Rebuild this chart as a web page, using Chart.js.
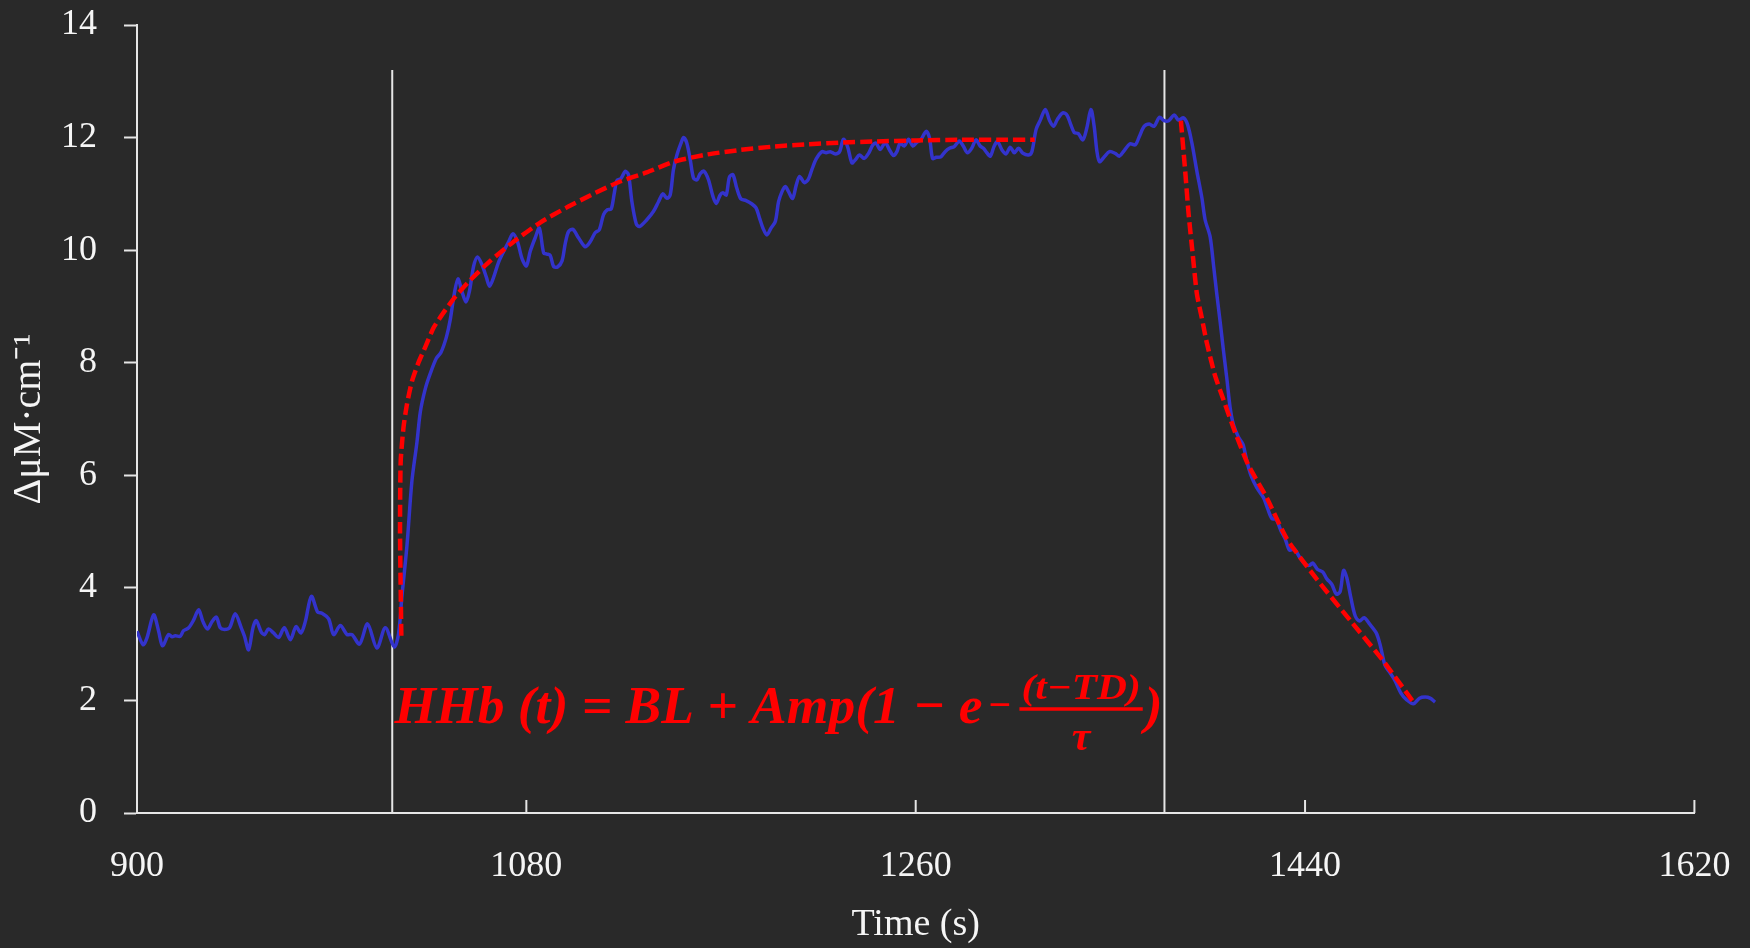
<!DOCTYPE html>
<html>
  <head>
    <title>HHb response</title>
    <style>
      body {
        margin: 0;
        padding: 0;
        background-color: #292929;
      }
      #chart-box {
        width: 1750px;
        height: 948px;
      }
    </style>
  </head>
  <body>
    <div id="chart-box">
      <canvas id="hhb-chart" width="1750" height="948"></canvas>
    </div>

    <script src="https://cdn.jsdelivr.net/npm/chart.js"></script>
    <script>
      // measured HHb signal (s, µM·cm-1)
      const hhbTime = [
        900, 902.8, 904.6, 907.7, 910, 911.8, 914.6, 916.2, 917.7, 920, 921.5, 923.9, 926.2, 928.5, 930.5,
        932.6, 934.7, 936.7, 938.5, 940.4, 942.8, 945.4, 948.2, 949.7, 951.6, 953.6, 955.1, 957.5, 959,
        960.8, 963.1, 965.5, 968.1, 970.9, 973.5, 975.8, 977.8, 980.6, 983.5, 985.5, 988.6, 990.9, 994,
        997.1, 999.4, 1002.9, 1006.6, 1010.9, 1014.8, 1018.9, 1020.9, 1022.5, 1024.8, 1027.1, 1029.4, 1031,
        1033.3, 1035.6, 1038.4, 1040.5, 1043, 1044.8, 1046.7, 1048.4, 1050.2, 1052.1, 1053.7, 1055.6,
        1057.4, 1059.5, 1061.5, 1063, 1064.8, 1067.1, 1069.8, 1071.8, 1073.8, 1075.9, 1078, 1080, 1081.8,
        1084.1, 1086, 1088, 1089.5, 1091, 1092.6, 1094.4, 1096.5, 1098, 1099.5, 1101.5, 1104.1, 1107.2,
        1109.5, 1111.8, 1113.7, 1115.7, 1117.5, 1119.2, 1120.6, 1121.9, 1123.7, 1125.7, 1127.2, 1128.8,
        1130.8, 1132.3, 1135.7, 1138.8, 1141.1, 1143.1, 1145, 1146.5, 1148, 1149.6, 1151.5, 1152.7, 1154.2,
        1155.8, 1157.3, 1158.9, 1160.4, 1162.2, 1164.2, 1166.3, 1167.8, 1169.6, 1170.9, 1172.4, 1173.9,
        1175.5, 1177.3, 1179.2, 1181.6, 1184.3, 1186.2, 1187.8, 1189.4, 1191.2, 1193.1, 1195.1, 1196.6,
        1198.2, 1199.7, 1201.2, 1203.1, 1204.8, 1206.3, 1208.5, 1210.4, 1212, 1214, 1216.6, 1218.6, 1220.5,
        1222.8, 1224.8, 1226.6, 1228.5, 1230.5, 1232, 1234, 1236.2, 1238.2, 1240.2, 1241.7, 1243.6, 1245.9,
        1247.9, 1249.7, 1251.3, 1252.8, 1254.7, 1256.7, 1258.7, 1260.6, 1262.4, 1264.8, 1266.4, 1267.8,
        1269.5, 1271.7, 1273.6, 1275.6, 1277.8, 1280.2, 1282.1, 1283.9, 1285.9, 1287.9, 1289.8, 1291.3,
        1292.9, 1294.5, 1296.3, 1297.8, 1299.9, 1301.8, 1303.7, 1305.6, 1307.5, 1309.6, 1312.2, 1313.7,
        1315.7, 1317.6, 1319.9, 1321.9, 1323.7, 1325.6, 1328, 1329.9, 1331.7, 1333.3, 1335.2, 1337.3,
        1339.1, 1341, 1342.5, 1343.8, 1345, 1347.2, 1349.6, 1352.2, 1354.2, 1356.4, 1359.1, 1361.5, 1363.4,
        1365.6, 1368, 1370.2, 1372.7, 1374.9, 1376.9, 1379.5, 1381.5, 1383.8, 1385.7, 1387.7, 1390, 1392.3,
        1393.8, 1396.1, 1397.7, 1399.2, 1400.8, 1402.3, 1403.9, 1405.4, 1406.9, 1409.2, 1411.3, 1413.1,
        1415, 1417.7, 1420.8, 1422.6, 1424.7, 1426.6, 1428.8, 1430.8, 1432.8, 1435, 1437.4, 1440, 1442,
        1443.6, 1445.7, 1448.2, 1450.1, 1452.4, 1454.4, 1456.2, 1457.8, 1459.3, 1461.2, 1463.2, 1465.2,
        1467.3, 1469.8, 1472.9, 1474.7, 1477, 1479.3, 1481.6, 1484.3, 1487, 1490.1, 1492.9, 1495.5, 1497.8,
        1500.1,
      ];
      const hhbValues = [
        3.23, 2.99, 3.11, 3.52, 3.23, 2.97, 3.17, 3.13, 3.15, 3.14, 3.24, 3.29, 3.43, 3.61, 3.4, 3.27, 3.4,
        3.48, 3.29, 3.26, 3.29, 3.54, 3.29, 3.14, 2.9, 3.29, 3.42, 3.21, 3.17, 3.27, 3.2, 3.12, 3.29, 3.08,
        3.31, 3.2, 3.4, 3.85, 3.57, 3.55, 3.45, 3.17, 3.33, 3.17, 3.17, 3.0, 3.36, 2.93, 3.29, 2.95, 3.18,
        3.86, 4.75, 5.9, 6.58, 7.13, 7.54, 7.81, 8.08, 8.18, 8.45, 8.76, 9.23, 9.49, 9.27, 9.08, 9.27, 9.71,
        9.88, 9.74, 9.52, 9.36, 9.51, 9.78, 10.0, 10.15, 10.29, 10.15, 9.85, 9.72, 9.98, 10.22, 10.39, 9.95,
        9.93, 9.91, 9.71, 9.7, 9.81, 10.12, 10.33, 10.37, 10.22, 10.06, 10.15, 10.31, 10.36, 10.63, 10.72,
        10.73, 11.0, 11.24, 11.27, 11.4, 11.34, 10.86, 10.47, 10.42, 10.54, 10.69, 10.86, 11.0, 10.92,
        10.98, 11.43, 11.69, 11.9, 12.0, 11.9, 11.6, 11.28, 11.25, 11.36, 11.4, 11.25, 10.95, 10.83, 10.98,
        11.02, 10.98, 11.3, 11.34, 11.1, 10.91, 10.88, 10.82, 10.75, 10.57, 10.39, 10.27, 10.39, 10.51,
        10.86, 11.04, 11.13, 11.04, 10.92, 11.16, 11.31, 11.2, 11.26, 11.43, 11.62, 11.75, 11.73, 11.75,
        11.71, 11.75, 11.97, 11.84, 11.55, 11.6, 11.69, 11.63, 11.72, 11.87, 11.9, 11.79, 11.91, 11.78,
        11.68, 11.75, 11.9, 11.85, 11.97, 11.85, 11.92, 11.96, 12.11, 11.99, 11.63, 11.65, 11.66, 11.75,
        11.81, 11.84, 11.94, 11.84, 11.73, 11.81, 11.96, 11.85, 11.81, 11.73, 11.67, 11.85, 11.93, 11.78,
        11.71, 11.83, 11.73, 11.81, 11.72, 11.69, 11.75, 12.15, 12.31, 12.5, 12.3, 12.2, 12.33, 12.44,
        12.4, 12.23, 12.09, 12.07, 11.96, 12.17, 12.5, 12.2, 11.75, 11.57, 11.66, 11.75, 11.72, 11.67,
        11.77, 11.89, 11.87, 12.02, 12.2, 12.24, 12.2, 12.36, 12.3, 12.3, 12.4, 12.31, 12.35, 12.23, 11.9,
        11.4, 10.93, 10.54, 10.24, 9.73, 9.22, 8.71, 8.21, 7.7, 7.19, 6.9, 6.68, 6.55, 6.25, 6.0, 5.78, 5.6,
        5.42, 5.23, 5.22, 5.02, 4.87, 4.67, 4.69, 4.55, 4.42, 4.4, 4.44, 4.33, 4.28, 4.16, 4.06, 3.89, 3.93,
        4.31, 4.18, 3.82, 3.5, 3.41, 3.47, 3.36, 3.2, 2.99, 2.62, 2.49, 2.35, 2.13, 2.01, 1.94, 2.04, 2.06,
        2.04, 1.97,
      ];

      // fitted on-kinetics curve
      const fitOnTime = [
        1022.2, 1021.6, 1021.9, 1023.2, 1024.8, 1027.1, 1030.2, 1033.3, 1037.1, 1041.7, 1047.1, 1054.1,
        1063.3, 1074.1, 1086.4, 1098.7, 1111, 1123.3, 1135.6, 1148, 1163.5, 1178.9, 1194.3, 1209.7, 1225.1,
        1240.5, 1260.6, 1280, 1300, 1315,
      ];
      const fitOnValues = [
        3.15, 5.0, 6.24, 6.85, 7.26, 7.67, 8.01, 8.28, 8.62, 8.89, 9.17, 9.47, 9.81, 10.15, 10.49, 10.76,
        11.0, 11.22, 11.38, 11.57, 11.7, 11.78, 11.84, 11.88, 11.91, 11.93, 11.95, 11.96, 11.96, 11.96,
      ];

      // fitted off-kinetics curve
      const fitOffTime = [
        1382.6, 1384.6, 1386.1, 1388, 1390, 1392.3, 1394.6, 1398.4, 1402.3, 1407.7, 1413.8, 1422.3, 1431.6,
        1445.5, 1460.9, 1476.2, 1490.1,
      ];
      const fitOffValues = [
        12.3, 11.4, 10.67, 9.95, 9.22, 8.79, 8.35, 7.77, 7.34, 6.76, 6.18, 5.6, 4.87, 4.15, 3.42, 2.7, 1.97,
      ];

      // exercise onset / offset markers
      const markerTimes = [1018, 1375];
      const markerRange = [0, 13.2];

      const xTicks = [900, 1080, 1260, 1440, 1620];
      const yTicks = [0, 2, 4, 6, 8, 10, 12, 14];

      const bgColor = "#292929";
      const axisColor = "#e6e6e6";
      const textColor = "#f5f5f5";
      const blue = "#3333cc";
      const red = "#ff0000";
      const serif = '"Liberation Serif", "Times New Roman", serif';

      // where the equation text starts (data units)
      const eqAnchor = { t: 1019, v: 1.6 };

      function toPoints(xs, ys) {
        return xs.map((x, i) => ({ x: x, y: ys[i] }));
      }

      const background = {
        id: "background",
        beforeDraw(chart) {
          const ctx = chart.ctx;
          ctx.save();
          ctx.fillStyle = bgColor;
          ctx.fillRect(0, 0, chart.width, chart.height);
          ctx.restore();
        },
      };

      // x axis has its tick marks pointing inwards
      const innerTicks = {
        id: "innerTicks",
        afterDraw(chart) {
          const { ctx, scales } = chart;
          const x = scales.x;
          ctx.save();
          ctx.strokeStyle = axisColor;
          ctx.lineWidth = 2;
          x.ticks.forEach((t) => {
            const px = x.getPixelForValue(t.value);
            ctx.beginPath();
            ctx.moveTo(px, x.top);
            ctx.lineTo(px, x.top - 13);
            ctx.stroke();
          });
          ctx.restore();
        },
      };

      const equation = {
        id: "equation",
        afterDatasetsDraw(chart) {
          const { ctx, scales } = chart;
          const left = scales.x.getPixelForValue(eqAnchor.t);
          const base = scales.y.getPixelForValue(eqAnchor.v);
          const s = 53.5;
          ctx.save();
          ctx.fillStyle = red;
          ctx.strokeStyle = red;
          ctx.textAlign = "left";
          ctx.textBaseline = "alphabetic";

          ctx.font = "italic bold " + s + "px " + serif;
          const head = "HHb (t) = BL + Amp(1 \u2212 e";
          ctx.fillText(head, left, base);
          let cur = left + ctx.measureText(head).width + 6;

          // exponent sign
          ctx.font = "bold 40px " + serif;
          ctx.fillText("\u2212", cur, base - 5);
          cur += ctx.measureText("\u2212").width + 8;

          // fraction (t - TD) / tau
          ctx.font = "italic bold 36px " + serif;
          const num = "(t\u2212TD)";
          const numW = ctx.measureText(num).width * 1.15;
          const barY = base - 14;
          ctx.save();
          ctx.translate(cur + 2, barY - 10);
          ctx.scale(1.15, 1);
          ctx.fillText(num, 0, 0);
          ctx.restore();
          ctx.lineWidth = 3.5;
          ctx.beginPath();
          ctx.moveTo(cur, barY);
          ctx.lineTo(cur + numW + 4, barY);
          ctx.stroke();
          ctx.font = "italic bold 42px " + serif;
          const tauW = ctx.measureText("\u03c4").width;
          ctx.fillText("\u03c4", cur + (numW + 4 - tauW) / 2, base + 27);
          cur += numW + 6;

          ctx.font = "italic bold " + s + "px " + serif;
          ctx.fillText(")", cur, base);
          ctx.restore();
        },
      };

      const ctx = document.getElementById("hhb-chart").getContext("2d");

      const markerSets = markerTimes.map((t) => ({
        data: toPoints([t, t], markerRange),
        borderColor: axisColor,
        borderWidth: 2,
        pointRadius: 0,
        tension: 0,
        order: 3,
      }));

      const chart = new Chart(ctx, {
        type: "line",
        data: {
          datasets: [
            {
              label: "HHb",
              data: toPoints(hhbTime, hhbValues),
              borderColor: blue,
              borderWidth: 3.5,
              pointRadius: 0,
              tension: 0.3,
              order: 2,
            },
            {
              label: "Fit on",
              data: toPoints(fitOnTime, fitOnValues),
              borderColor: red,
              borderWidth: 4.5,
              borderDash: [12, 5],
              pointRadius: 0,
              tension: 0.2,
              order: 1,
            },
            {
              label: "Fit off",
              data: toPoints(fitOffTime, fitOffValues),
              borderColor: red,
              borderWidth: 4.5,
              borderDash: [12, 5],
              pointRadius: 0,
              tension: 0.2,
              order: 1,
            },
            ...markerSets,
          ],
        },
        options: {
          responsive: false,
          animation: false,
          events: [],
          layout: { padding: { top: 25, right: 55.6, left: 0, bottom: 0 } },
          plugins: {
            legend: { display: false },
            tooltip: { enabled: false },
          },
          scales: {
            x: {
              type: "linear",
              min: xTicks[0],
              max: xTicks[xTicks.length - 1],
              afterBuildTicks: (scale) => {
                scale.ticks = xTicks.map((v) => ({ value: v }));
              },
              ticks: {
                color: textColor,
                font: { family: serif, size: 36 },
                padding: 32,
                callback: (v) => String(v),
              },
              grid: { drawOnChartArea: false, drawTicks: false },
              border: { color: axisColor, width: 2 },
              title: {
                display: true,
                text: "Time (s)",
                color: textColor,
                font: { family: serif, size: 38 },
                padding: { top: 0, bottom: 0 },
              },
              afterFit: (scale) => {
                scale.height = 135;
                scale.paddingLeft = 0;
                scale.paddingRight = 0;
              },
            },
            y: {
              type: "linear",
              min: yTicks[0],
              max: yTicks[yTicks.length - 1],
              afterBuildTicks: (scale) => {
                scale.ticks = yTicks.map((v) => ({ value: v }));
              },
              ticks: {
                color: textColor,
                font: { family: serif, size: 36 },
                padding: 27,
                callback: (v) => String(v),
              },
              grid: {
                drawOnChartArea: false,
                drawTicks: true,
                tickLength: 13,
                tickColor: axisColor,
                tickWidth: 2,
              },
              border: { color: axisColor, width: 2 },
              title: {
                display: true,
                text: "\u0394\u03bcM\u00b7cm\u207b\u00b9",
                color: textColor,
                font: { family: serif, size: 40 },
                padding: { top: 5, bottom: 0 },
              },
              afterFit: (scale) => {
                scale.width = 137;
                scale.paddingTop = 0;
                scale.paddingBottom = 0;
              },
            },
          },
        },
        plugins: [background, innerTicks, equation],
      });
    </script>
  </body>
</html>
